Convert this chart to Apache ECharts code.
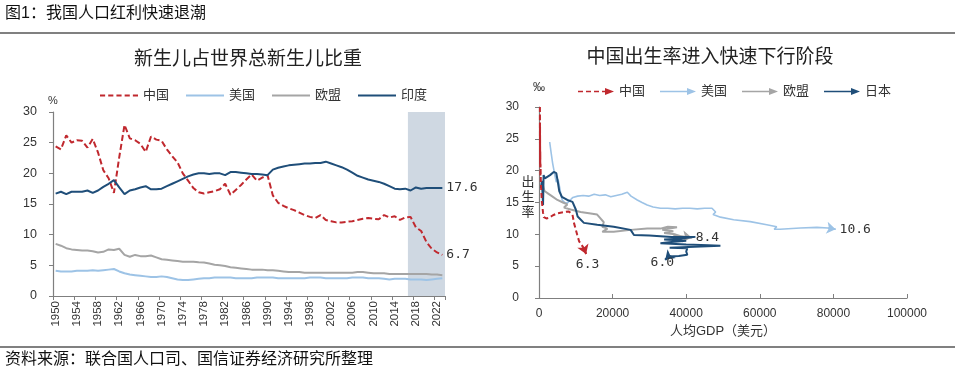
<!DOCTYPE html>
<html>
<head>
<meta charset="utf-8">
<script src="https://cdn.jsdelivr.net/npm/echarts/dist/echarts.min.js"></script>
<style>
html, body { margin: 0; padding: 0; background: #fff; }
#main { width: 960px; height: 375px; }
</style>
</head>
<body>
<div id="main"></div>
<script>
// 左图：新生儿占世界总新生儿比重（%）
var years = [];
for (var y = 1950; y <= 2023; y++) years.push(String(y));
var shadeYears = [2017, 2023];   // 阴影覆盖的年份（含首尾）

var chinaShare = [
    24.4, 23.9, 26.2, 25.0, 25.4, 25.3, 24.2, 25.6, 23.4, 20.5,
    19.2, 16.8, 22.6, 27.9, 25.7, 25.4, 24.8, 23.5, 26.0, 25.5,
    25.3, 23.9, 22.8, 21.8, 20.0, 18.8, 17.6, 16.9, 16.7, 16.9,
    17.1, 17.4, 18.3, 16.5, 17.3, 18.1, 19.0, 19.8, 18.8, 19.3,
    19.7, 16.4, 15.2, 14.7, 14.3, 14.0, 13.6, 13.2, 12.9, 12.7,
    13.2, 12.4, 12.2, 12.0, 12.0, 12.1, 12.2, 12.4, 12.6, 12.7,
    12.6, 12.5, 13.2, 12.8, 13.0, 12.4, 12.8, 12.9, 11.2, 10.6,
    8.8, 7.7, 7.1, 6.7
];
var usShare = [
    4.1, 4.0, 4.0, 4.0, 4.1, 4.1, 4.1, 4.2, 4.1, 4.2,
    4.3, 4.4, 4.0, 3.7, 3.5, 3.4, 3.3, 3.2, 3.1, 3.1,
    3.2, 3.1, 2.9, 2.7, 2.6, 2.6, 2.7, 2.8, 2.9, 2.9,
    3.0, 3.0, 3.0, 3.0, 2.9, 2.9, 2.9, 2.9, 3.0, 3.0,
    3.0, 3.0, 2.9, 2.9, 2.9, 2.9, 2.9, 2.9, 3.0, 3.0,
    3.0, 2.9, 2.9, 2.9, 2.9, 2.9, 3.0, 3.0, 3.0, 2.9,
    2.9, 2.9, 2.8, 2.7, 2.8, 2.8, 2.8, 2.7, 2.7, 2.7,
    2.6, 2.7, 2.8, 2.9
];
var euShare = [
    8.5, 8.2, 7.8, 7.6, 7.5, 7.4, 7.4, 7.3, 7.1, 7.2,
    7.6, 7.5, 7.7, 6.7, 6.4, 6.7, 6.5, 6.5, 6.6, 6.3,
    6.0, 5.9, 5.8, 5.7, 5.6, 5.6, 5.6, 5.5, 5.45, 5.3,
    5.1, 5.0, 4.9, 4.7, 4.6, 4.5, 4.4, 4.3, 4.3, 4.3,
    4.2, 4.2, 4.1, 4.0, 3.9, 3.9, 3.9, 3.8, 3.8, 3.8,
    3.8, 3.8, 3.8, 3.8, 3.8, 3.8, 3.8, 3.9, 3.9, 3.8,
    3.7, 3.7, 3.7, 3.6, 3.6, 3.6, 3.6, 3.6, 3.6, 3.6,
    3.6, 3.5, 3.5, 3.4
];
var indiaShare = [
    16.7, 17.0, 16.6, 17.0, 17.0, 17.0, 17.2, 16.8, 17.2, 17.8,
    18.3, 18.9, 17.7, 16.6, 17.2, 17.4, 17.7, 17.9, 17.4, 17.4,
    17.5, 17.9, 18.3, 18.7, 19.1, 19.5, 19.8, 20.0, 20.0, 19.9,
    20.0, 20.0, 19.7, 20.2, 20.2, 20.1, 20.0, 19.9, 19.9, 19.8,
    19.7, 20.6, 20.9, 21.1, 21.3, 21.4, 21.5, 21.6, 21.6, 21.7,
    21.7, 21.9, 21.6, 21.3, 21.0, 20.6, 20.1, 19.6, 19.3, 19.0,
    18.8, 18.6, 18.3, 17.9, 17.5, 17.4, 17.5, 17.2, 17.7, 17.5,
    17.6, 17.6, 17.6, 17.6
];

// 右图：出生率（‰）与人均GDP（美元）路径，[人均GDP, 出生率]
var chinaPath = [
    [250, 30], [270, 24], [260, 29], [290, 21], [280, 27], [300, 22], [290, 25.5],
    [330, 20.5], [350, 23], [380, 19], [420, 21], [500, 18], [600, 17], [700, 16],
    [800, 15], [950, 14.2], [1100, 13.4], [1300, 12.7], [2000, 12.5], [2700, 12.6],
    [3800, 13.0], [5000, 13.3], [6800, 13.5], [8100, 13.6], [9100, 13.1], [9500, 11.8],
    [10400, 9.9], [10900, 8.9], [12200, 7.8], [12800, 6.9]
];
var usPath = [
    [2900, 24.5], [3300, 22.8], [3700, 21.2], [4200, 19.6], [4700, 18.2], [5200, 18.6],
    [5600, 17.4], [5900, 16.4], [6300, 15.4], [7000, 15.0], [7700, 14.9], [8500, 15.4],
    [9200, 15.8], [10500, 16.0], [12000, 16.1], [13500, 16.0], [15000, 16.3], [16500, 16.1],
    [18000, 16.2], [19500, 15.9], [21000, 16.1], [22500, 16.3], [24000, 16.6], [25000, 16.0],
    [26700, 15.4], [28000, 15.0], [29400, 14.6], [31000, 14.3], [33000, 14.1], [35000, 14.1],
    [37000, 14.0], [39000, 14.1], [41000, 14.1], [43000, 14.0], [45000, 14.1], [47000, 14.1],
    [48000, 13.5], [47300, 13.1], [49300, 12.7], [52900, 12.3], [57400, 12.0], [61900, 11.5],
    [64600, 11.2], [63900, 10.8], [65500, 10.8], [71000, 11.0], [75500, 11.1], [78500, 11.0],
    [80600, 10.8]
];
var euPath = [
    [900, 18.0], [1500, 16.8], [2500, 16.4], [3500, 16.0], [5000, 15.4], [6500, 15.0],
    [7700, 14.7], [6800, 14.2], [8600, 13.9], [11300, 13.5], [13600, 13.3], [15800, 13.1],
    [16700, 12.5], [17600, 11.9], [17200, 11.2], [18600, 10.9], [17200, 10.4], [20300, 10.4],
    [24900, 10.7], [29400, 10.9], [33000, 10.9], [35000, 11.2], [37500, 11.1], [33500, 10.7],
    [36500, 10.5], [34000, 10.2], [37000, 10.0], [38500, 9.7], [36500, 9.9], [40000, 9.6],
    [41500, 9.5]
];
var japanPath = [
    [500, 17.3], [800, 18.4], [1000, 18.7], [1100, 14.6], [1250, 19.3], [1600, 18.8],
    [2100, 18.9], [3000, 19.3], [4000, 19.8], [4700, 19.6], [5100, 18.3], [5500, 16.8],
    [6200, 15.9], [7700, 15.4], [9100, 15.1], [10000, 13.9], [10500, 12.8], [12200, 11.8],
    [15800, 11.5], [20300, 11.2], [24900, 10.7], [25800, 9.9], [30000, 9.8], [36000, 9.6],
    [42500, 9.6], [38000, 9.3], [34000, 9.2], [40000, 9.0], [36000, 8.8], [33000, 8.6],
    [40000, 8.4], [46000, 8.3], [49300, 8.2], [44000, 8.1], [35500, 7.9], [40300, 7.8],
    [40000, 7.3], [40300, 6.8], [38000, 6.6], [35200, 6.5], [34300, 6.0]
];
var pathEndLabels = { '中国': '6.3', '美国': '10.6', '欧盟': '8.4', '日本': '6.0' };

var RED = '#c0282e', LIGHT = '#9dc3e6', GRAY = '#a5a5a5', NAVY = '#1f4e79';
var AXIS = '#7f7f7f', TXT = '#333';
var FONT = "'Liberation Sans', 'Noto Sans CJK SC', sans-serif";
var MONO = "'DejaVu Sans Mono', monospace";

// 图例图标
var solidBar = 'path://M0,4L38,4L38,6L0,6Z';
var dashBar = 'path://M0,4L5,4L5,6L0,6Z M8,4L13,4L13,6L8,6Z M16,4L21,4L21,6L16,6Z M24,4L29,4L29,6L24,6Z M32,4L37,4L37,6L32,6Z';
var solidArrow = 'path://M0,4.3L28,4.3L28,5.7L0,5.7Z M27,1.5L36,5L27,8.5Z';
var dashArrow = 'path://M0,4.2L5,4.2L5,5.8L0,5.8Z M8,4.2L13,4.2L13,5.8L8,5.8Z M16,4.2L21,4.2L21,5.8L16,5.8Z M24,4.2L28,4.2L28,5.8L24,5.8Z M27,1.5L36,5L27,8.5Z';

var chart = echarts.init(document.getElementById('main'), null, { renderer: 'canvas' });

function shareLine(name, data, color, type, endLbl) {
    return {
        name: name, type: 'line', xAxisIndex: 0, yAxisIndex: 0,
        data: data, symbol: 'none', smooth: false,
        lineStyle: { color: color, width: 2, type: type },
        itemStyle: { color: color },
        endLabel: {
            show: endLbl, distance: 4, color: TXT, fontSize: 13, fontFamily: MONO,
            formatter: function (p) { return p.value.toFixed(1); }
        },
        z: 3
    };
}

function pathLine(name, path, color, type, width, z) {
    return {
        name: name, type: 'line', xAxisIndex: 1, yAxisIndex: 1,
        data: path, symbol: 'none', smooth: false,
        lineStyle: { color: color, width: width, type: type },
        itemStyle: { color: color },
        z: z
    };
}

// 只画最后一段，用来带箭头和末端数值
function pathArrow(name, path, color, type, width, z) {
    return {
        name: name, type: 'lines', coordinateSystem: 'cartesian2d',
        xAxisIndex: 1, yAxisIndex: 1, polyline: false,
        symbol: ['none', 'arrow'], symbolSize: 9,
        lineStyle: { color: color, width: width, type: type, opacity: 1, curveness: 0 },
        label: {
            show: true, position: 'end', distance: 4, color: TXT,
            fontSize: 13, fontFamily: MONO, formatter: pathEndLabels[name]
        },
        data: [{ coords: path.slice(-2) }],
        z: z
    };
}

var option = {
    animation: false,
    backgroundColor: '#fff',
    textStyle: { fontFamily: FONT },
    grid: [
        { left: 53, right: 515, top: 112, bottom: 79, outerBoundsMode: 'none' },
        { left: 539, right: 53, top: 107, bottom: 77, outerBoundsMode: 'none' }
    ],
    legend: [
        {
            left: 95, top: 84, itemWidth: 38, itemHeight: 10, itemGap: 17,
            textStyle: { fontSize: 13, color: TXT, fontFamily: FONT },
            itemStyle: { borderWidth: 0 },
            data: [
                { name: '中国', icon: dashBar, itemStyle: { color: RED } },
                { name: '美国', icon: solidBar, itemStyle: { color: LIGHT } },
                { name: '欧盟', icon: solidBar, itemStyle: { color: GRAY } },
                { name: '印度', icon: solidBar, itemStyle: { color: NAVY } }
            ]
        },
        {
            left: 573, top: 80, itemWidth: 36, itemHeight: 10, itemGap: 15,
            textStyle: { fontSize: 13, color: TXT, fontFamily: FONT },
            itemStyle: { borderWidth: 0 },
            data: [
                { name: '中国', icon: dashArrow, itemStyle: { color: RED } },
                { name: '美国', icon: solidArrow, itemStyle: { color: LIGHT } },
                { name: '欧盟', icon: solidArrow, itemStyle: { color: GRAY } },
                { name: '日本', icon: solidArrow, itemStyle: { color: NAVY } }
            ]
        }
    ],
    xAxis: [
        {
            type: 'category', gridIndex: 0, data: years, boundaryGap: true,
            axisLine: { lineStyle: { color: AXIS, width: 1.2 } },
            axisTick: { show: true, interval: 3, length: 4, lineStyle: { color: AXIS } },
            axisLabel: { interval: 3, rotate: 90, fontSize: 11.5, color: TXT, margin: 5 },
            splitLine: { show: false }
        },
        {
            type: 'value', gridIndex: 1, min: 0, max: 100000, interval: 20000,
            name: '人均GDP（美元）', nameLocation: 'middle', nameGap: 26,
            nameTextStyle: { fontSize: 13, color: TXT },
            axisLine: { show: true, lineStyle: { color: AXIS, width: 1.2 } },
            axisTick: { show: true, inside: true, length: 4, lineStyle: { color: AXIS } },
            axisLabel: { fontSize: 12, color: TXT, margin: 10, formatter: function (v) { return String(v); } },
            splitLine: { show: false }
        },
        {
            // 隐藏的年份数值轴，只用来让阴影贴合年份格子的边界
            type: 'value', gridIndex: 0, show: false,
            min: 1949.5, max: 2023.5
        }
    ],
    yAxis: [
        {
            type: 'value', gridIndex: 0, min: 0, max: 30, interval: 5,
            name: '%', nameLocation: 'end', nameGap: 6,
            nameTextStyle: { fontSize: 11, color: TXT, align: 'center' },
            axisLine: { show: true, lineStyle: { color: AXIS, width: 1.2 } },
            axisTick: { show: true, length: 4, lineStyle: { color: AXIS } },
            axisLabel: { fontSize: 12.5, color: TXT, margin: 16 },
            splitLine: { show: false }
        },
        {
            type: 'value', gridIndex: 1, min: 0, max: 30, interval: 5,
            name: '‰', nameLocation: 'end', nameGap: 13,
            nameTextStyle: { fontSize: 12, color: TXT, align: 'center' },
            axisLine: { show: true, lineStyle: { color: AXIS, width: 1.2 } },
            axisTick: { show: true, length: 4, lineStyle: { color: AXIS } },
            axisLabel: { fontSize: 12, color: TXT, margin: 20 },
            splitLine: { show: false }
        }
    ],
    graphic: [
        { type: 'text', left: 5, top: 6, style: { text: '图1：我国人口红利快速退潮', fontSize: 16, fontFamily: FONT, fill: '#111' } },
        { type: 'line', shape: { x1: 0, y1: 33, x2: 955, y2: 33 }, style: { stroke: '#808080', lineWidth: 2 } },
        { type: 'text', x: 248, y: 60, style: { text: '新生儿占世界总新生儿比重', fontSize: 19, fontFamily: FONT, fill: '#222', textAlign: 'center', textVerticalAlign: 'middle' } },
        { type: 'text', x: 710, y: 58, style: { text: '中国出生率进入快速下行阶段', fontSize: 19, fontFamily: FONT, fill: '#222', textAlign: 'center', textVerticalAlign: 'middle' } },
        { type: 'text', x: 528, y: 197, style: { text: '出\n生\n率', fontSize: 13, lineHeight: 15, fontFamily: FONT, fill: TXT, textAlign: 'center', textVerticalAlign: 'middle' } },
        { type: 'line', shape: { x1: 0, y1: 347, x2: 955, y2: 347 }, style: { stroke: '#808080', lineWidth: 2 } },
        { type: 'text', left: 5, top: 352, style: { text: '资料来源：联合国人口司、国信证券经济研究所整理', fontSize: 16, fontFamily: FONT, fill: '#111' } }
    ],
    series: [
        {
            name: 'shade', type: 'line', xAxisIndex: 2, yAxisIndex: 0,
            data: [], silent: true, z: 1,
            markArea: {
                silent: true,
                itemStyle: { color: '#cfd8e2', opacity: 1 },
                data: [[{ xAxis: shadeYears[0] - 0.5 }, { xAxis: shadeYears[1] + 0.5 }]]
            }
        },
        shareLine('美国', usShare, LIGHT, 'solid', false),
        shareLine('欧盟', euShare, GRAY, 'solid', false),
        shareLine('中国', chinaShare, RED, [6, 3], true),
        shareLine('印度', indiaShare, NAVY, 'solid', true),

        pathLine('美国', usPath, LIGHT, 'solid', 1.6, 3),
        pathLine('欧盟', euPath, GRAY, 'solid', 2, 4),
        pathLine('日本', japanPath, NAVY, 'solid', 2, 5),
        pathLine('中国', chinaPath, RED, [5, 3], 2, 6),
        pathArrow('美国', usPath, LIGHT, 'solid', 1.6, 3),
        pathArrow('欧盟', euPath, GRAY, 'solid', 2, 4),
        pathArrow('日本', japanPath, NAVY, 'solid', 2, 5),
        pathArrow('中国', chinaPath, RED, [5, 3], 2, 6)
    ]
};

chart.setOption(option);
</script>
</body>
</html>
